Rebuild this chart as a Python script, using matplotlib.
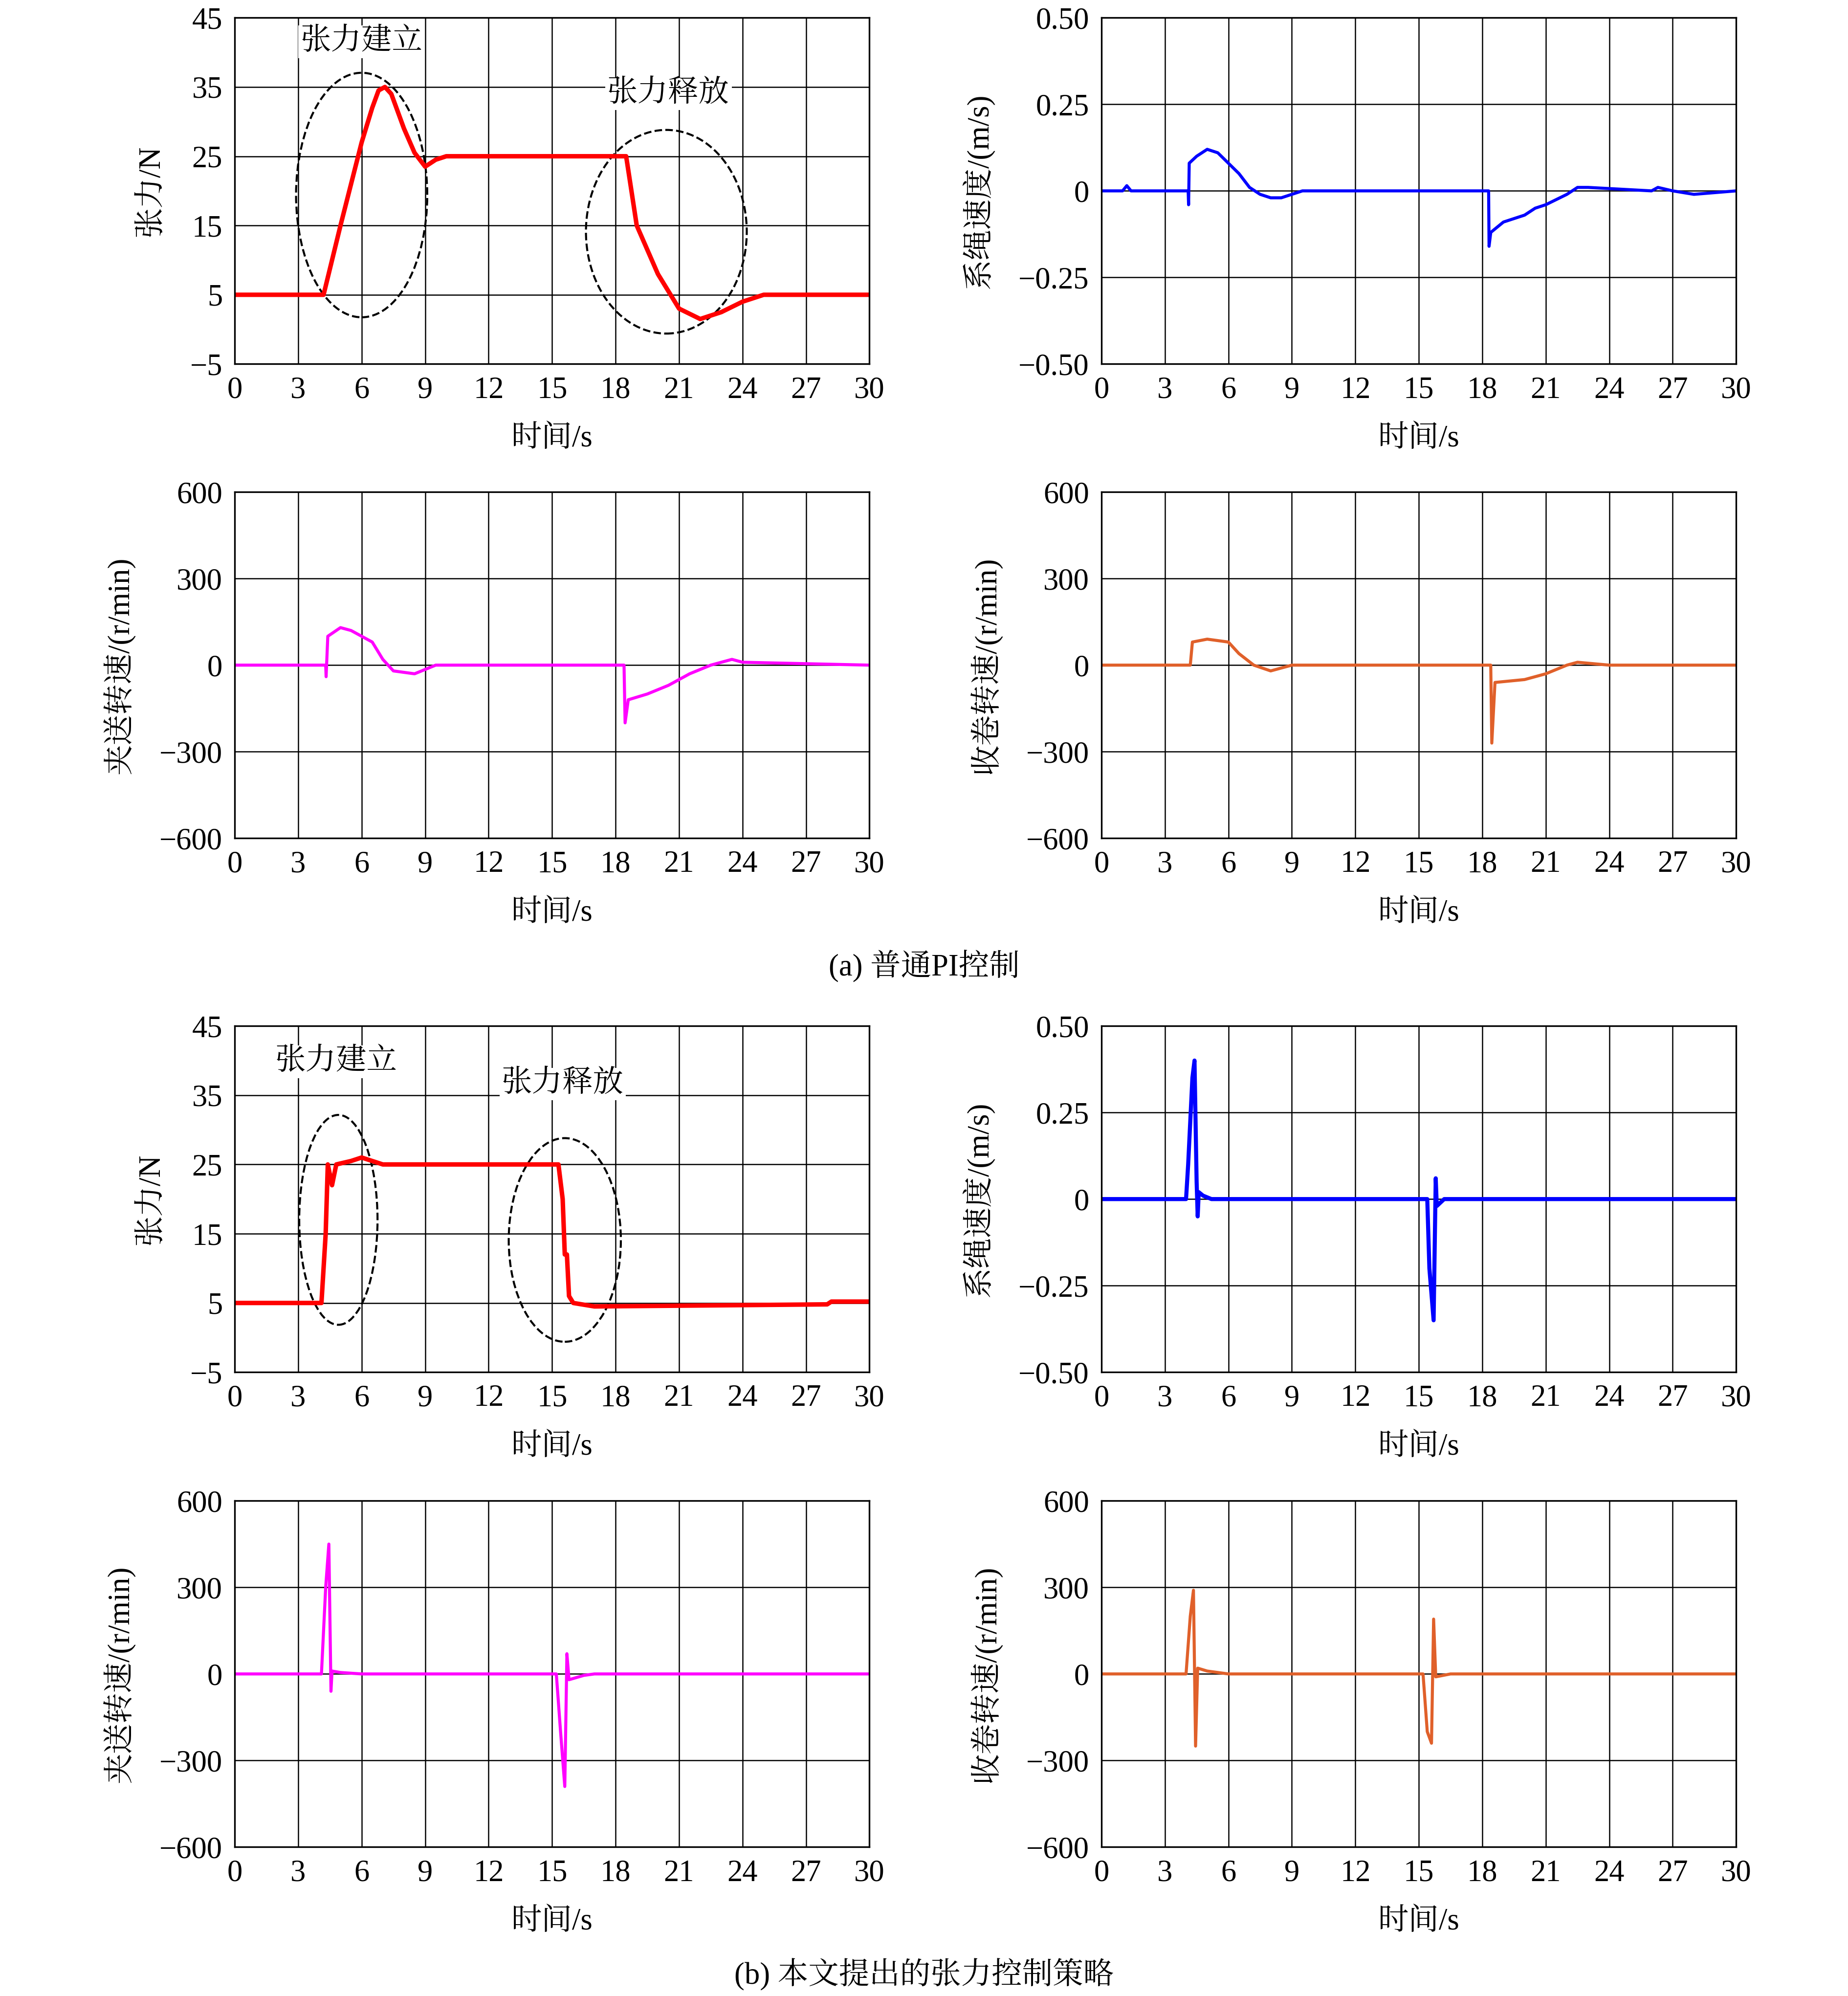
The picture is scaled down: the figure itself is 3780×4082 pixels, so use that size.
import matplotlib
matplotlib.use("Agg")
import matplotlib.pyplot as plt
from matplotlib.patches import Ellipse

plt.rcParams['font.family'] = ['Liberation Serif', 'Noto Serif CJK SC', 'Noto Sans CJK SC', 'DejaVu Sans']
plt.rcParams['font.size'] = 15
plt.rcParams['axes.unicode_minus'] = True

# ---- data (keypoints) ----
ta_t = [0,4.2,5,6,6.5,6.8,7.1,7.4,8,8.5,9,9.5,10,18.4,18.5,19,20,21,22,23,24,25,30]
ta_v = [5,5,15,27,32,34.5,35,34,29,25.5,23.5,24.5,25,25,25,15,8,3,1.5,2.5,4,5,5]
ra_t = [0,1,1.2,1.4,4.1,4.12,4.15,4.5,5,5.5,6,6.5,7,7.5,8,8.5,9,9.5,18.3,18.32,18.4,19,19.5,20,20.5,21,22,22.5,23,26,26.3,27,28,30]
ra_v = [0,0,0.015,0,0,-0.04,0.08,0.1,0.12,0.11,0.08,0.05,0.01,-0.01,-0.02,-0.02,-0.01,0,0,-0.16,-0.12,-0.09,-0.08,-0.07,-0.05,-0.04,-0.01,0.01,0.01,0,0.01,0,-0.01,0]
fa_t = [0,4.3,4.32,4.4,5,5.5,6.5,7,7.5,8.5,9.5,18.4,18.45,18.6,19.5,20.5,21.5,22.5,23.5,24,30]
fa_v = [0,0,-40,100,130,120,80,20,-20,-30,0,0,-200,-120,-100,-70,-30,0,20,10,0]
wa_t = [0,4.2,4.3,5,6,6.5,7.2,8,9,18.4,18.45,18.6,20,21,22,22.5,24,30]
wa_v = [0,0,80,90,80,40,0,-20,0,0,-270,-60,-50,-30,0,10,0,0]
tb_t = [0,4.1,4.3,4.4,4.6,4.8,5.5,6,7,15.3,15.5,15.6,15.7,15.8,16,17,28,28.2,30]
tb_v = [5,5,15,25,22,25,25.5,26,25,25,20,12,12,6,5,4.5,4.8,5.2,5.2]
rb_t = [0,4.0,4.1,4.3,4.4,4.5,4.55,4.6,4.8,5.2,15.4,15.5,15.7,15.8,15.85,16.2,30]
rb_v = [0,0,0.1,0.35,0.4,0.05,-0.05,0.02,0.01,0,0,-0.2,-0.35,0.06,-0.02,0,0]
fb_t = [0,4.1,4.3,4.45,4.55,4.6,5,6,15.2,15.4,15.6,15.7,15.8,16.5,17,30]
fb_v = [0,0,300,450,-60,10,5,0,0,-200,-390,70,-20,-5,0,0]
wb_t = [0,4.0,4.2,4.35,4.45,4.55,5,6,15.2,15.4,15.6,15.7,15.8,16.5,30]
wb_v = [0,0,200,290,-250,20,10,0,0,-200,-240,190,-10,0,0]

xticks = list(range(0, 31, 3))
fig = plt.figure(figsize=(12.6, 13.607), dpi=300)
L, R, W, H = 0.127, 0.596, 0.3435, 0.1735
rows = [0.8176, 0.580, 0.3125, 0.0746]

def panel(x0, y0, t, v, color, ylim, yt, ylab, ytl=None, lw=1.5):
    ax = fig.add_axes([x0, y0, W, H])
    ax.plot(t, v, color=color, lw=lw)
    ax.set_xlim(0, 30); ax.set_ylim(*ylim)
    ax.set_xticks(xticks); ax.set_yticks(yt)
    if ytl: ax.set_yticklabels(ytl)
    ax.grid(True, color='black', lw=0.6)
    ax.tick_params(length=0, pad=6)
    ax.set_xlabel('时间/s', fontsize=15, labelpad=10)
    ax.set_ylabel(ylab, fontsize=15, labelpad=12)
    return ax

tY = [-5,5,15,25,35,45]; tYl = ['−5','5','15','25','35','45']
rY = [-0.5,-0.25,0,0.25,0.5]; rYl = ['−0.50','−0.25','0','0.25','0.50']
sY = [-600,-300,0,300,600]; sYl = ['−600','−300','0','300','600']

a1 = panel(L, rows[0], ta_t, ta_v, '#ff0000', (-5,45), tY, '张力/N', tYl, 2.2)
panel(R, rows[0], ra_t, ra_v, '#0000ff', (-0.5,0.5), rY, '系绳速度/(m/s)', rYl)
panel(L, rows[1], fa_t, fa_v, '#ff00ff', (-600,600), sY, '夹送转速/(r/min)', sYl)
panel(R, rows[1], wa_t, wa_v, '#e0602a', (-600,600), sY, '收卷转速/(r/min)', sYl)
b1 = panel(L, rows[2], tb_t, tb_v, '#ff0000', (-5,45), tY, '张力/N', tYl, 2.2)
panel(R, rows[2], rb_t, rb_v, '#0000ff', (-0.5,0.5), rY, '系绳速度/(m/s)', rYl, 2.0)
panel(L, rows[3], fb_t, fb_v, '#ff00ff', (-600,600), sY, '夹送转速/(r/min)', sYl)
panel(R, rows[3], wb_t, wb_v, '#e0602a', (-600,600), sY, '收卷转速/(r/min)', sYl)

for ax, ells, labs in [
    (a1, [(6.0,19.4,6.2,35.3),(20.4,14.1,7.6,29.4)], [(6.0,41.5,'张力建立'),(20.5,34,'张力释放')]),
    (b1, [(4.9,17,3.7,30.3),(15.6,14.1,5.3,29.4)], [(4.8,39.8,'张力建立'),(15.5,36.6,'张力释放')])]:
    for cx, cy, w, h in ells:
        ax.add_patch(Ellipse((cx,cy), w, h, fill=False, ls='--', lw=1.0, color='black'))
    for x, y, s in labs:
        ax.text(x, y, s, ha='center', va='center', fontsize=15,
                bbox=dict(facecolor='white', edgecolor='none', pad=1))

fig.text(0.5, 1-759/1568, '(a) 普通PI控制', ha='center', va='center', fontsize=15)
fig.text(0.5, 1-1551/1568, '(b) 本文提出的张力控制策略', ha='center', va='center', fontsize=15)
fig.savefig('out.png', dpi=300)
